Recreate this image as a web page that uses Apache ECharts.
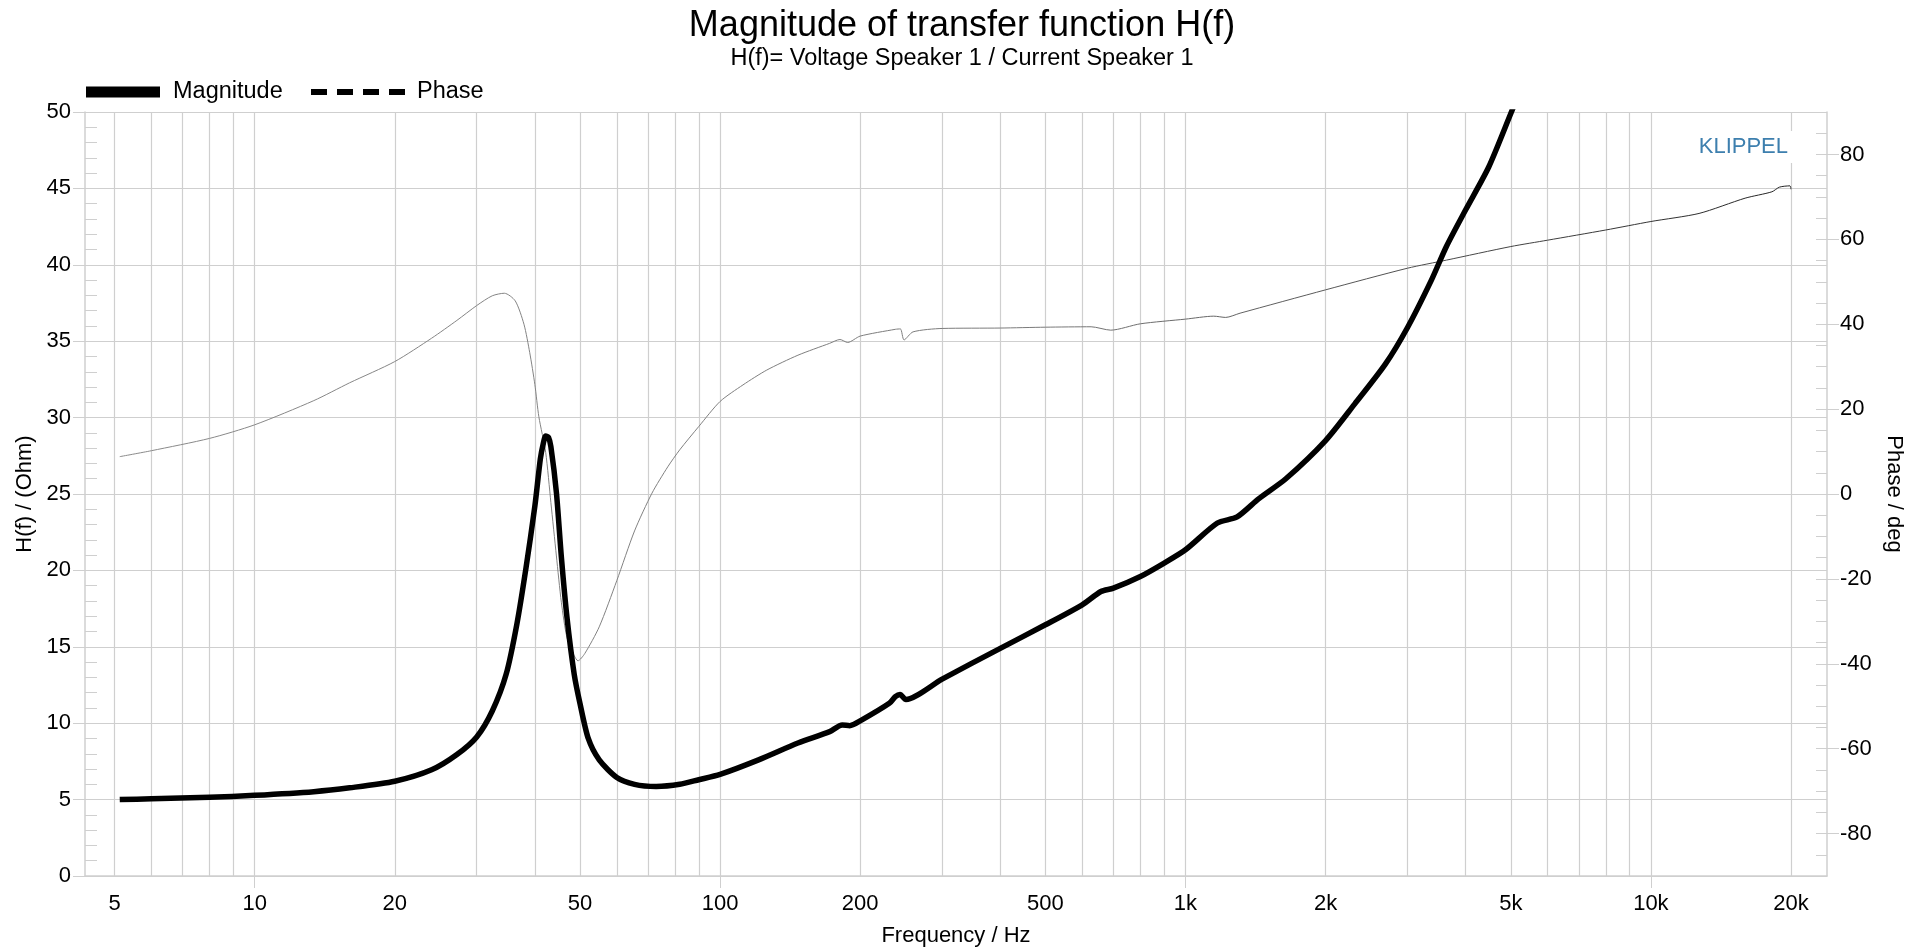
<!DOCTYPE html>
<html>
<head>
<meta charset="utf-8">
<script src="https://cdn.jsdelivr.net/npm/echarts@6/dist/echarts.min.js"></script>
<style>
  html, body { margin: 0; padding: 0; background: #fff; }
  #chart { width: 1924px; height: 952px; }
</style>
</head>
<body>
<div id="chart"></div>
<script>
/* impedance magnitude (Hz / Ohm) */
const MAG_FREQ = [5.13, 6, 8, 10, 13.4, 16, 20, 24, 27.2, 30, 32.4, 34.7, 36.6, 38.3, 40, 41.1, 41.7, 42.2, 42.8, 43.3,
  44.5, 45.6, 46.9, 48.6, 50, 52.1, 55, 60, 65.5, 72.9, 81.9, 90, 100, 121, 147, 172, 183, 190, 200, 231, 238, 243.6,
  250.8, 300, 400, 500, 600, 658, 700, 800, 900, 1000, 1171, 1291, 1438, 1643, 2000, 2311, 2688, 3000, 3376, 3636,
  4000, 4483, 5000, 5300]
const MAG = [5.0, 5.05, 5.15, 5.28, 5.52, 5.77, 6.2, 6.95, 7.95, 9.1, 10.8, 13.2, 16.5, 20.2, 24.2, 27.3, 28.3, 28.8, 28.7, 28.1,
  25.1, 20.9, 16.9, 13.2, 11.3, 9.0, 7.6, 6.45, 6.0, 5.86, 6.0, 6.3, 6.65, 7.6, 8.7, 9.45, 9.88, 9.84, 10.15, 11.3, 11.74, 11.88,
  11.55, 12.88, 14.9, 16.44, 17.75, 18.62, 18.84, 19.6, 20.48, 21.35, 23.1, 23.5, 24.7, 26.0, 28.5, 30.9, 33.5, 35.9, 39.0, 41.2,
  43.6, 46.4, 49.9, 51.8]

/* phase (Hz / deg) */
const PH_FREQ = [5.13, 6, 8, 10, 13.4, 16, 20, 24, 27.2, 30, 32.4, 34.4, 36.3, 37.9, 39, 40, 40.8, 42.2, 43.3, 44.5, 45.6,
  46.9, 48.6, 49.5, 51.2, 55, 60, 65.5, 71.4, 77.2, 81.9, 90, 100, 112, 126, 147, 172, 181, 188, 200, 238, 244, 248.5,
  259.8, 300, 400, 500, 627, 691, 800, 1000, 1150, 1220, 1310, 2000, 3000, 3636, 5000, 6000, 8000, 10000, 12690,
  15940, 18200, 18890, 19900, 20000]
const PHASE = [8.8, 10.2, 13.1, 16.3, 22.0, 26.2, 31.2, 36.7, 40.9, 44.4, 46.7, 47.3, 45.5, 40.0, 33.3, 25.8, 18.2, 9.8, -2.0, -14.6, -25.5,
  -33.9, -38.1, -39.3, -37.6, -31.3, -20.4, -8.7, 0.2, 6.4, 10.4, 15.9, 21.8, 25.7, 29.2, 32.7, 35.5, 36.4, 35.7, 37.2, 38.8, 38.9, 36.3,
  38.2, 39.0, 39.1, 39.3, 39.4, 38.6, 40.1, 41.2, 41.9, 41.6, 42.6, 48.1, 53.2, 55.1, 58.3, 59.8, 62.2, 64.2, 66.1,
  69.7, 71.2, 72.3, 72.6, 71.8]

const X_LABELS = [5, 10, 20, 50, 100, 200, 500, 1000, 2000, 5000, 10000, 20000]
const X_DECADES = [10, 100, 1000, 10000]
const X_GRID = [5, 6, 7, 8, 9, 10, 20, 30, 40, 50, 60, 70, 80, 90, 100, 200, 300, 400, 500, 600, 700, 800, 900,
  1000, 2000, 3000, 4000, 5000, 6000, 7000, 8000, 9000, 10000, 20000]
const PHASE_TICKS = [-80, -60, -40, -20, 0, 20, 40, 60, 80]

const FONT = '"Liberation Sans", Arial, sans-serif'
const GRID = '#cfcfcf'
const X_MIN = 4.32, X_MAX = 23900

const pairs = (xs, ys) => xs.map((x, i) => [x, ys[i]])
const fmtHz = v => {
  const r = Math.round(v)
  return r >= 1000 ? `${r / 1000}k` : `${r}`
}
const label = { fontFamily: FONT, fontSize: 22, color: '#000' }
const legendText = { ...label, fontSize: 23.5 }

const chart = echarts.init(document.getElementById('chart'), null, { renderer: 'canvas' })
chart.setOption({
  animation: false,
  textStyle: { fontFamily: FONT },
  title: {
    text: 'Magnitude of transfer function H(f)',
    subtext: 'H(f)= Voltage Speaker 1 / Current Speaker 1',
    left: 'center', top: 3, itemGap: 3,
    textStyle: { fontFamily: FONT, fontSize: 36, fontWeight: 'normal', color: '#000' },
    subtextStyle: { fontFamily: FONT, fontSize: 23.5, color: '#000' },
  },
  legend: [
    { data: [{ name: 'Magnitude', icon: 'rect', itemStyle: { color: '#000', borderWidth: 0 } }],
      left: 81, top: 75, itemWidth: 74, itemHeight: 11, selectedMode: false,
      textStyle: { ...legendText, padding: [0, 0, 0, 8] } },
    { data: [{ name: 'Phase',
        icon: 'path://M0,0h16v6h-16z M26,0h16v6h-16z M52,0h16v6h-16z M78,0h16v6h-16z',
        itemStyle: { color: '#000', borderWidth: 0 } }],
      left: 306, top: 75, itemWidth: 94, itemHeight: 6, selectedMode: false,
      textStyle: { ...legendText, padding: [0, 0, 0, 7] } },
  ],
  grid: { left: 85, right: 97, top: 112, bottom: 76 },
  xAxis: [
    { type: 'log', logBase: 10, min: X_MIN, max: X_MAX,
      name: 'Frequency / Hz', nameLocation: 'middle', nameGap: 49, nameTextStyle: label,
      axisLine: { lineStyle: { color: GRID, width: 1.5 } },
      axisTick: { customValues: X_DECADES, length: 12, lineStyle: { color: GRID } },
      axisLabel: { ...label, customValues: X_LABELS, margin: 17, formatter: fmtHz },
      splitLine: { show: false } },
    { type: 'log', logBase: 10, min: X_MIN, max: X_MAX, position: 'top',
      axisLine: { show: false }, axisLabel: { show: false },
      axisTick: { show: false, customValues: X_GRID },
      splitLine: { show: true, lineStyle: { color: GRID, width: 1.2 } } },
  ],
  yAxis: [
    { type: 'value', position: 'left', min: 0, max: 50, interval: 5,
      name: 'H(f) / (Ohm)', nameLocation: 'middle', nameGap: 46, nameTextStyle: label,
      axisLine: { show: true, lineStyle: { color: GRID, width: 1.5 } },
      axisTick: { show: true, length: 12, lineStyle: { color: GRID } },
      axisLabel: { ...label, margin: 14 },
      splitLine: { show: true, lineStyle: { color: GRID, width: 1.2 } } },
    { type: 'value', position: 'left', min: 0, max: 50, interval: 1,
      axisLine: { show: false }, axisLabel: { show: false }, splitLine: { show: false },
      axisTick: { show: true, inside: true, length: 12, lineStyle: { color: GRID } } },
    { type: 'value', position: 'right', min: -90, max: 90,
      name: 'Phase / deg', nameLocation: 'middle', nameGap: 56, nameRotate: -90, nameTextStyle: label,
      axisLine: { show: true, lineStyle: { color: GRID, width: 1.5 } },
      axisTick: { show: true, customValues: PHASE_TICKS, length: 12, lineStyle: { color: GRID } },
      axisLabel: { ...label, customValues: PHASE_TICKS, margin: 13 },
      splitLine: { show: false } },
    { type: 'value', position: 'right', min: -90, max: 90, interval: 5,
      axisLine: { show: false }, axisLabel: { show: false }, splitLine: { show: false },
      axisTick: { show: true, inside: true, length: 11, lineStyle: { color: GRID } } },
  ],
  graphic: [{
    type: 'text', right: 128, top: 131, z: 50,
    style: { text: 'KLIPPEL', fill: '#3d7fae', font: `22px ${FONT}`,
      backgroundColor: '#fff', padding: [5, 8, 5, 4] },
  }],
  series: [
    { name: 'Phase', type: 'line', xAxisIndex: 0, yAxisIndex: 2, data: pairs(PH_FREQ, PHASE),
      symbol: 'none', z: 2, smooth: 0.25,
      lineStyle: { width: 1,
        color: new echarts.graphic.LinearGradient(0, 0, 1, 0, [
          { offset: 0, color: '#8a8a8a' }, { offset: 0.55, color: '#7a7a7a' }, { offset: 1, color: '#222' }]) },
      itemStyle: { color: '#777' } },
    { name: 'Magnitude', type: 'line', xAxisIndex: 0, yAxisIndex: 0, data: pairs(MAG_FREQ, MAG),
      symbol: 'none', z: 3, smooth: 0.25,
      lineStyle: { color: '#000', width: 5.5, join: 'round' }, itemStyle: { color: '#000' } },
  ],
})
</script>
</body>
</html>
